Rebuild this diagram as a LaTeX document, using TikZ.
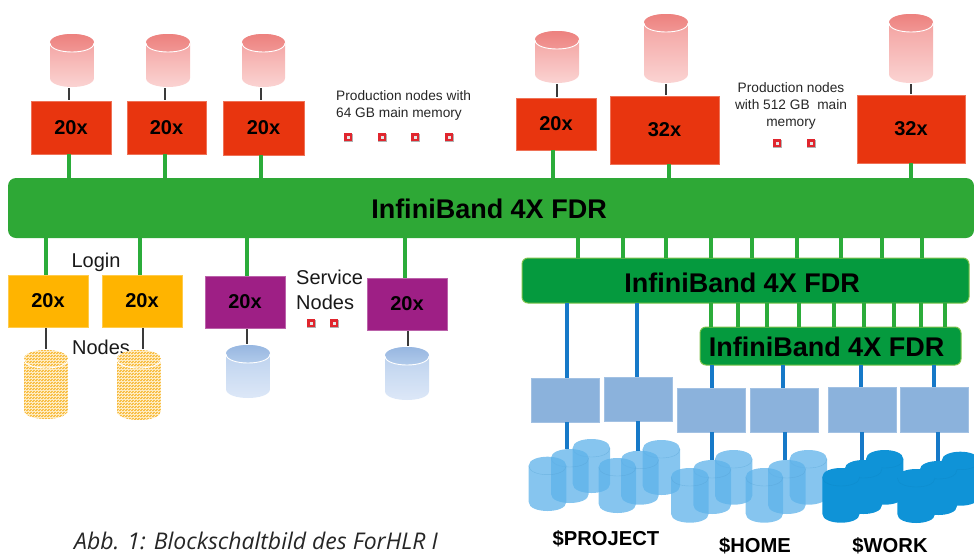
\documentclass[tikz,border=0pt]{standalone}
\usepackage{fontspec}
\setmainfont{Liberation Sans}
\newfontfamily\capfont{Open Sans}
\definecolor{busgreen}{HTML}{2EA836}
\definecolor{darkbus}{HTML}{059A3E}
\definecolor{busedge}{HTML}{7CC24A}
\definecolor{stemgreen}{HTML}{2BAC3A}
\definecolor{nodered}{HTML}{E8350F}
\definecolor{nodeyellow}{HTML}{FFB400}
\definecolor{nodepurple}{HTML}{9E1F85}
\definecolor{ctrlblue}{HTML}{8BB2DC}
\definecolor{stemblue}{HTML}{1679C8}
\definecolor{stemdark}{HTML}{3A3A3A}
\definecolor{lightdisk}{HTML}{5DB2EA}
\definecolor{workdisk}{HTML}{0F93D7}
\definecolor{redtop}{HTML}{EC7E7B}
\definecolor{redmid}{HTML}{F29A98}
\definecolor{redlow}{HTML}{FBD6D5}
\definecolor{bluetop}{HTML}{93B4DF}
\definecolor{bluemid}{HTML}{B5CDEC}
\definecolor{bluelow}{HTML}{DFE9F8}
\definecolor{dotbase}{HTML}{FEEBC0}
\definecolor{dotfg}{HTML}{F8BE45}
\definecolor{markred}{HTML}{E0262E}
\tikzset{
  hwbox/.style={rectangle,inner sep=0pt,outer sep=0pt,font=\fontsize{20}{20}\selectfont\bfseries,text=black},
  redbox/.style={hwbox,fill=nodered,draw=nodered!70!white,line width=.5pt},
  yellowbox/.style={hwbox,fill=nodeyellow,draw=nodeyellow!70!white,line width=.5pt},
  purplebox/.style={hwbox,fill=nodepurple,draw=nodepurple!70!white,line width=.5pt},
  ctrlbox/.style={hwbox,fill=ctrlblue,draw=ctrlblue!80!white,line width=.5pt},
  busbox/.style={hwbox,fill=busgreen,rounded corners=8pt},
  busboxb/.style={hwbox,fill=darkbus,draw=busedge,line width=1pt,rounded corners=6pt},
  bustitle/.style={inner sep=0pt,font=\fontsize{27}{27}\selectfont\bfseries,text=black},
  thickstem/.style={stemgreen,line width=4pt},
  thinstem/.style={stemgreen,line width=3.2pt},
  bluestem/.style={stemblue,line width=3.4pt},
  stub/.style={stemdark,line width=1.2pt,shorten <=1pt,shorten >=1pt},
  infotext/.style={inner sep=0pt,align=center,font=\fontsize{13.7}{17}\selectfont,text=black!85},
  bigtext/.style={inner sep=0pt,font=\fontsize{20}{25}\selectfont,text=black!90},
  storelabel/.style={inner sep=0pt,font=\fontsize{20.2}{20.2}\selectfont\bfseries,text=black},
  cylanchor/.style={rectangle,inner sep=0pt,outer sep=0pt},
}
% #1 style, #2 name, #3 x1, #4 y1, #5 x2, #6 y2, #7 text
\newcommand{\hwnode}[7]{\node[#1,minimum width={(#5-#3)*1pt},minimum height={(#6-#4)*1pt}] (#2) at ({(#3+#5)/2},{(#4+#6)/2}) {#7};}
% #1 style, #2 x, #3 from, #4 to
\newcommand{\vlink}[4]{\coordinate (col#2) at (#2,0); \draw[#1] (col#2 |- #3) -- (col#2 |- #4);}
% marker: centre
\newcommand{\marker}[2]{%
  \fill[black!30] (#1-3.9,#2-3.5) rectangle (#1+5,#2+5.4);
  \fill[markred] (#1-4.3,#2-4.3) rectangle (#1+4.3,#2+4.3);
  \fill[black!10] (#1-1.5,#2-1.5) rectangle (#1+1.5,#2+1.5);}
% gradient cylinder: #1 name, #2 x1, #3 x2, #4 y1, #5 y2, #6 top colour, #7 body top, #8 body bottom
\newcommand{\gradcyl}[8]{%
  \node[cylanchor,minimum width={(#3-#2)*1pt},minimum height={(#5-#4)*1pt}] (#1) at ({(#2+#3)/2},{(#4+#5)/2}) {};
  \shade[top color=#7,bottom color=#8] (#2,#4+9) -- (#2,#5-9) .. controls (#2,#5+3) and (#3,#5+3) .. (#3,#5-9) -- (#3,#4+9) .. controls (#3,#4-3) and (#2,#4-3) .. (#2,#4+9) -- cycle;
  \shade[top color=#6,bottom color=#7] (#2,#4+9) .. controls (#2,#4-3) and (#3,#4-3) .. (#3,#4+9) .. controls (#3,#4+21) and (#2,#4+21) .. (#2,#4+9) -- cycle;
  \draw[white,line width=.9pt] (#2,#4+9) .. controls (#2,#4+21) and (#3,#4+21) .. (#3,#4+9);}
% dotted cylinder
\newcommand{\dotcyl}[5]{%
  \node[cylanchor,minimum width={(#3-#2)*1pt},minimum height={(#5-#4)*1pt}] (#1) at ({(#2+#3)/2},{(#4+#5)/2}) {};
  \begin{scope}
  \clip (#2,#4+9) -- (#2,#5-9) .. controls (#2,#5+3) and (#3,#5+3) .. (#3,#5-9) -- (#3,#4+9) .. controls (#3,#4-3) and (#2,#4-3) .. (#2,#4+9) -- cycle;
  \fill[dotbase] (#2,#4) rectangle (#3,#5);
  \foreach \i in {0,...,14}{\foreach \j in {0,...,47}{\fill[dotfg] ({#2+3*\i-1.5+1.5*mod(\j,2)},{#4+1.5*\j}) rectangle +(2,1.3);}}
  \end{scope}
  \draw[white,line width=.9pt] (#2,#4+9) .. controls (#2,#4+21) and (#3,#4+21) .. (#3,#4+9);}
% flat storage cylinder: #1 name, #2 x1, #3 x2, #4 y1, #5 y2, #6 colour, #7 opacity
\newcommand{\diskcyl}[7]{%
  \node[cylanchor,minimum width={(#3-#2)*1pt},minimum height={(#5-#4)*1pt}] (#1) at ({(#2+#3)/2},{(#4+#5)/2}) {};
  \fill[#6,opacity=#7] (#2,#4+9) -- (#2,#5-9) .. controls (#2,#5+3) and (#3,#5+3) .. (#3,#5-9) -- (#3,#4+9) .. controls (#3,#4-3) and (#2,#4-3) .. (#2,#4+9) -- cycle;
  \draw[#6!90!black,line width=.4pt,opacity=.45] (#2,#4+9) .. controls (#2,#4+21) and (#3,#4+21) .. (#3,#4+9);}
\begin{document}
\begin{tikzpicture}[x=1pt,y=-1pt]
\useasboundingbox (0,0) rectangle (974,555);
% --- buses
\hwnode{busbox}{bus}{8}{178}{974}{238}{}
\node[bustitle] (bustext) at (489,209) {InfiniBand 4X FDR};
\hwnode{busboxb}{busb}{522}{258}{969}{303}{}
\node[bustitle] (busbtext) at (742,283) {InfiniBand 4X FDR};
\hwnode{busboxb}{busc}{700}{327}{961}{365}{}
\node[bustitle] (busctext) at (826.5,347) {InfiniBand 4X FDR};
% --- production nodes
\hwnode{redbox}{ra}{31}{101}{111}{154}{20x}
\hwnode{redbox}{rb}{127}{101}{206}{154}{20x}
\hwnode{redbox}{rc}{223}{101}{304}{155}{20x}
\hwnode{redbox}{rd}{516}{98}{596}{150}{20x}
\hwnode{redbox}{re}{610}{96}{719}{164}{32x}
\hwnode{redbox}{rf}{857}{95}{965}{163}{32x}
\gradcyl{da}{50}{94}{34}{87}{redtop}{redmid}{redlow}
\gradcyl{db}{146}{190}{34}{87}{redtop}{redmid}{redlow}
\gradcyl{dc}{242}{285}{34}{87}{redtop}{redmid}{redlow}
\gradcyl{dd}{535}{579}{31}{83}{redtop}{redmid}{redlow}
\gradcyl{de}{644}{688}{14}{83}{redtop}{redmid}{redlow}
\gradcyl{df}{889}{933}{14}{83}{redtop}{redmid}{redlow}
\vlink{stub}{69}{da.south}{ra.north}
\vlink{stub}{165}{db.south}{rb.north}
\vlink{stub}{261}{dc.south}{rc.north}
\vlink{stub}{557}{dd.south}{rd.north}
\vlink{stub}{666}{de.south}{re.north}
\vlink{stub}{911}{df.south}{rf.north}
\vlink{thickstem}{69}{ra.south}{bus.north}
\vlink{thickstem}{165}{rb.south}{bus.north}
\vlink{thickstem}{261}{rc.south}{bus.north}
\vlink{thickstem}{553}{rd.south}{bus.north}
\vlink{thickstem}{669}{re.south}{bus.north}
\vlink{thickstem}{911}{rf.south}{bus.north}
\node[infotext,anchor=north west,align=left] (infoa) at (336,90) {Production nodes with\\64 GB main memory};
\node[infotext] (infob) at (791,106) {Production nodes\\with 512 GB\ \ main\\memory};
\marker{348}{137}\marker{382}{137}\marker{415}{137}\marker{449}{137}
\marker{777}{143}\marker{811}{143}
% --- login and service nodes
\node[bigtext] (login) at (96,262) {Login};
\node[bigtext] (loginb) at (101,347) {Nodes};
\hwnode{yellowbox}{ya}{8}{275}{88}{327}{20x}
\hwnode{yellowbox}{yb}{102}{275}{182}{327}{20x}
\hwnode{purplebox}{pa}{205}{276}{285}{328}{20x}
\hwnode{purplebox}{pb}{367}{278}{447}{330}{20x}
\dotcyl{ca}{24}{68}{350}{419}
\dotcyl{cb}{117}{161}{350}{420}
\gradcyl{cc}{226}{270}{345}{398}{bluetop}{bluemid}{bluelow}
\gradcyl{cd}{385}{429}{347}{400}{bluetop}{bluemid}{bluelow}
\vlink{thickstem}{46}{bus.south}{ya.north}
\vlink{thickstem}{140}{bus.south}{yb.north}
\vlink{thickstem}{247}{bus.south}{pa.north}
\vlink{thickstem}{405}{bus.south}{pb.north}
\vlink{stub}{46}{ya.south}{ca.north}
\vlink{stub}{143}{yb.south}{cb.north}
\vlink{stub}{247}{pa.south}{cc.north}
\vlink{stub}{408}{pb.south}{cd.north}
\node[bigtext,align=left,anchor=north west] (svc) at (296,270) {Service\\Nodes};
\marker{311}{323}\marker{334}{323}
% --- storage
\foreach \x in {578,623,666,711,752,797,841,882,922}{\vlink{thinstem}{\x}{bus.south}{busb.north}}
\foreach \x in {711,738,767,799,834,864,894,921,945}{\vlink{thinstem}{\x}{busb.south}{busc.north}}
\hwnode{ctrlbox}{sa}{531}{378}{599}{422}{}
\hwnode{ctrlbox}{sb}{604}{377}{672}{421}{}
\hwnode{ctrlbox}{sc}{677}{388}{745}{432}{}
\hwnode{ctrlbox}{sd}{750}{388}{818}{432}{}
\hwnode{ctrlbox}{se}{828}{387}{896}{432}{}
\hwnode{ctrlbox}{sf}{900}{387}{968}{432}{}
\vlink{bluestem}{567}{busb.south}{sa.north}
\vlink{bluestem}{637}{busb.south}{sb.north}
\vlink{bluestem}{712}{busc.south}{sc.north}
\vlink{bluestem}{783}{busc.south}{sd.north}
\vlink{bluestem}{861}{busc.south}{se.north}
\vlink{bluestem}{934}{busc.south}{sf.north}
\diskcyl{pa3}{572.7}{610}{439}{493}{lightdisk}{.75}
\diskcyl{pa2}{551}{588.7}{449}{503}{lightdisk}{.75}
\diskcyl{pa1}{528.7}{566.3}{456.7}{511}{lightdisk}{.75}
\diskcyl{pb3}{642.7}{680}{440}{495}{lightdisk}{.75}
\diskcyl{pb2}{621}{658.7}{450.7}{504.7}{lightdisk}{.75}
\diskcyl{pb1}{598.7}{636}{458}{513}{lightdisk}{.75}
\diskcyl{ha3}{715}{752.3}{450}{504.7}{lightdisk}{.75}
\diskcyl{ha2}{693.3}{731}{460}{514}{lightdisk}{.75}
\diskcyl{ha1}{671}{708.7}{468}{522.7}{lightdisk}{.75}
\diskcyl{hb3}{789.7}{827}{450}{504.7}{lightdisk}{.75}
\diskcyl{hb2}{768}{805.7}{460}{514}{lightdisk}{.75}
\diskcyl{hb1}{745.7}{783}{468}{522.7}{lightdisk}{.75}
\diskcyl{wa3}{866}{903.3}{450}{504.7}{workdisk}{1}
\diskcyl{wa2}{844.7}{882}{460}{514}{workdisk}{1}
\diskcyl{wa1}{822.3}{859.7}{468}{522.7}{workdisk}{1}
\diskcyl{wb3}{941.7}{979}{451.7}{505.7}{workdisk}{1}
\diskcyl{wb2}{919.7}{957}{461}{515}{workdisk}{1}
\diskcyl{wb1}{897.3}{935}{469}{523}{workdisk}{1}
\vlink{bluestem}{567}{sa.south}{pa2.north}
\vlink{bluestem}{638}{sb.south}{pb2.north}
\vlink{bluestem}{712}{sc.south}{ha2.north}
\vlink{bluestem}{785}{sd.south}{hb2.north}
\vlink{bluestem}{862}{se.south}{wa2.north}
\vlink{bluestem}{938}{sf.south}{wb2.north}
\node[storelabel] (lproject) at (606,539) {\$PROJECT};
\node[storelabel] (lhome) at (755,545.5) {\$HOME};
\node[storelabel] (lwork) at (890,545.5) {\$WORK};
\node[inner sep=0pt,anchor=base west,font=\capfont\itshape\fontsize{23}{24}\selectfont,text=black!85] (caption) at (74,549.5) {Abb. 1: Blockschaltbild des ForHLR I};
\end{tikzpicture}
\end{document}
